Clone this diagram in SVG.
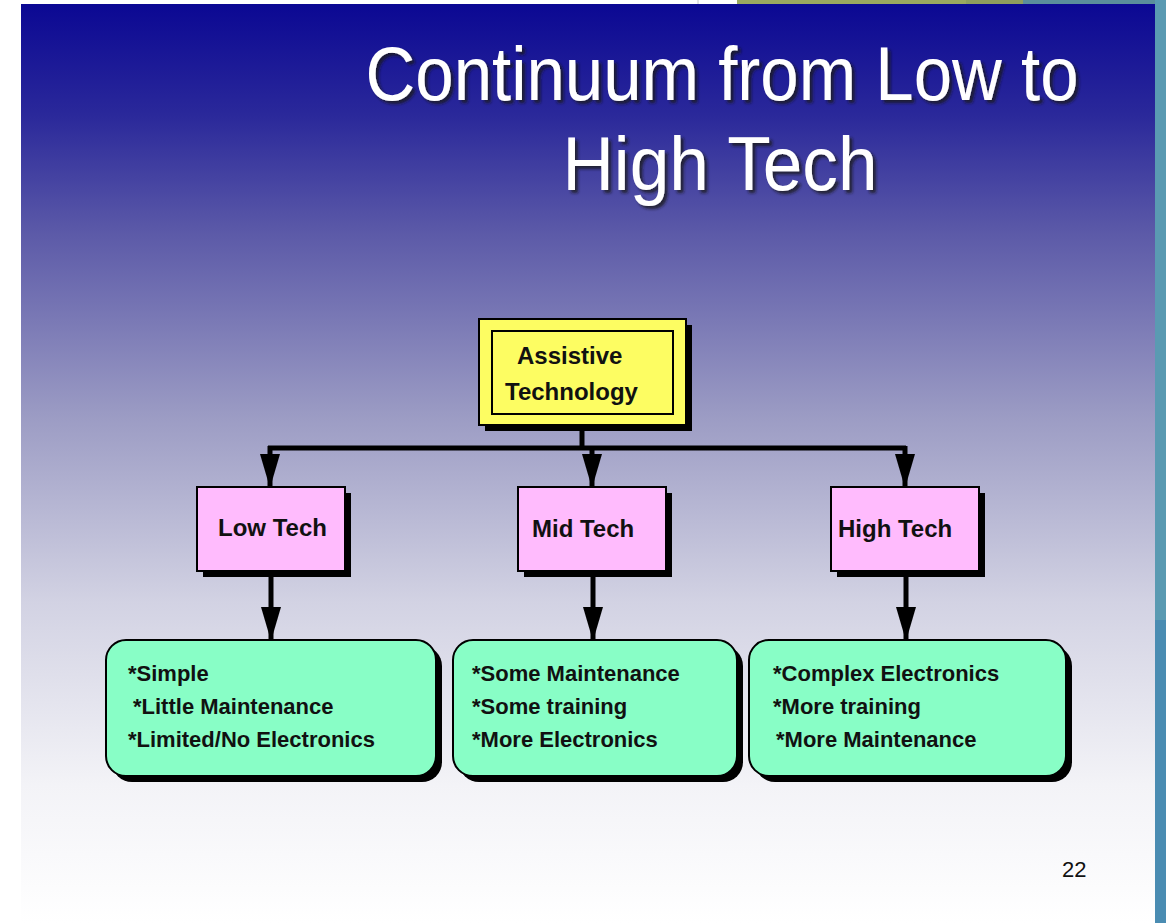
<svg xmlns="http://www.w3.org/2000/svg" width="1166" height="923" viewBox="0 0 1166 923">
<defs>
<linearGradient id="bg" x1="0" y1="0" x2="0" y2="1">
<stop offset="0" stop-color="#0b0893"/>
<stop offset="0.12" stop-color="#2a289a"/>
<stop offset="0.25" stop-color="#5c5aa8"/>
<stop offset="0.45" stop-color="#9c9cc4"/>
<stop offset="0.65" stop-color="#d2d2e3"/>
<stop offset="0.85" stop-color="#f3f3f7"/>
<stop offset="1" stop-color="#ffffff"/>
</linearGradient>
<filter id="ts" x="-10%" y="-20%" width="120%" height="150%">
<feDropShadow dx="3" dy="3" stdDeviation="1.5" flood-color="#1a1a1a" flood-opacity="0.8"/>
</filter>
<marker id="ah" viewBox="0 0 34 20" refX="34" refY="10" markerWidth="34" markerHeight="20" markerUnits="userSpaceOnUse" orient="auto">
<path d="M0,0 L34,10 L0,20 Z" fill="#000"/>
</marker>
</defs>
<style>
.title{font-family:"Liberation Sans",Arial,sans-serif;font-size:76px;fill:#fff;text-anchor:middle;filter:url(#ts)}
.lbl{font-family:"Liberation Sans",Arial,sans-serif;font-weight:bold;font-size:24px;fill:#111}
.item{font-family:"Liberation Sans",Arial,sans-serif;font-weight:bold;font-size:22px;fill:#111}
.shadow{fill:#000}
.yellow{fill:#fdfd62;stroke:#000;stroke-width:2}
.pink{fill:#ffbbfd;stroke:#000;stroke-width:2}
.green{fill:#88fec6;stroke:#000;stroke-width:2}
.conn{stroke:#000;stroke-width:5;fill:none}
.arr{stroke:#000;stroke-width:5;fill:none}
.num{font-family:"Liberation Sans",Arial,sans-serif;font-size:22px;fill:#111}
</style>
<!-- page frame -->
<rect x="0" y="0" width="1166" height="923" fill="#ffffff"/>
<rect x="737" y="0" width="286" height="5" fill="#9aa860"/>
<rect x="966" y="0" width="57" height="5" fill="#8e9e5e"/>
<rect x="1023" y="0" width="143" height="5" fill="#5a8e9c"/>
<line x1="698" y1="0" x2="698" y2="4" stroke="#c8c8c8" stroke-width="1"/>
<rect x="1155" y="0" width="11" height="923" fill="#5a9ab2"/>
<rect x="1155" y="620" width="11" height="303" fill="#4a8cb2"/>
<rect x="21" y="4" width="1134" height="919" fill="url(#bg)"/>
<!-- title -->
<g id="title">
<text class="title" x="722" y="100" textLength="713" lengthAdjust="spacingAndGlyphs">Continuum from Low to</text>
<text class="title" x="720" y="190" textLength="315" lengthAdjust="spacingAndGlyphs">High Tech</text>
</g>
<!-- connectors -->
<g id="connectors">
<path class="conn" d="M582,425 L582,448 M268,448 L906,448"/>
<line class="arr" x1="270" y1="446" x2="270" y2="488" marker-end="url(#ah)"/>
<line class="arr" x1="592" y1="446" x2="592" y2="488" marker-end="url(#ah)"/>
<line class="arr" x1="905" y1="446" x2="905" y2="488" marker-end="url(#ah)"/>
<line class="arr" x1="271" y1="572" x2="271" y2="641" marker-end="url(#ah)"/>
<line class="arr" x1="593" y1="572" x2="593" y2="641" marker-end="url(#ah)"/>
<line class="arr" x1="906" y1="572" x2="906" y2="641" marker-end="url(#ah)"/>
</g>
<!-- root -->
<g id="node-assistive">
<rect class="shadow" x="485" y="325" width="207" height="106"/>
<rect class="yellow" x="479" y="319" width="207" height="106"/>
<rect class="yellow" x="492" y="331" width="181" height="83"/>
<text class="lbl" x="517" y="364">Assistive</text>
<text class="lbl" x="505" y="400">Technology</text>
</g>
<g id="node-low">
<rect class="shadow" x="203" y="493" width="148" height="84"/>
<rect class="pink" x="197" y="487" width="148" height="84"/>
<text class="lbl" x="218" y="536">Low Tech</text>
</g>
<g id="node-mid">
<rect class="shadow" x="524" y="493" width="148" height="84"/>
<rect class="pink" x="518" y="487" width="148" height="84"/>
<text class="lbl" x="532" y="537">Mid Tech</text>
</g>
<g id="node-high">
<rect class="shadow" x="837" y="493" width="148" height="84"/>
<rect class="pink" x="831" y="487" width="148" height="84"/>
<text class="lbl" x="838" y="537">High Tech</text>
</g>
<g id="node-low-detail">
<rect class="shadow" x="112" y="646" width="330" height="136" rx="20"/>
<rect class="green" x="106" y="640" width="330" height="136" rx="20"/>
<text class="item" x="128" y="681">*Simple</text>
<text class="item" x="133" y="714">*Little Maintenance</text>
<text class="item" x="128" y="747">*Limited/No Electronics</text>
</g>
<g id="node-mid-detail">
<rect class="shadow" x="459" y="646" width="284" height="136" rx="20"/>
<rect class="green" x="453" y="640" width="284" height="136" rx="20"/>
<text class="item" x="472" y="681">*Some Maintenance</text>
<text class="item" x="472" y="714">*Some training</text>
<text class="item" x="472" y="747">*More Electronics</text>
</g>
<g id="node-high-detail">
<rect class="shadow" x="755" y="646" width="317" height="136" rx="20"/>
<rect class="green" x="749" y="640" width="317" height="136" rx="20"/>
<text class="item" x="773" y="681">*Complex Electronics</text>
<text class="item" x="773" y="714">*More training</text>
<text class="item" x="776" y="747">*More Maintenance</text>
</g>
<text class="num" x="1062" y="877">22</text>
</svg>
